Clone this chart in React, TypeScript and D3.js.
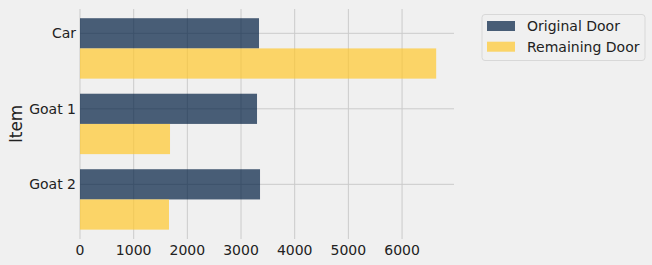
import React from "react";
import * as d3 from "d3";

const categories = ["Car", "Goat 1", "Goat 2"];
const seriesNames = ["Original Door", "Remaining Door"];
const originalDoor = [3335, 3298, 3354];
const remainingDoor = [6636, 1677, 1658];
const xTicks = [0, 1000, 2000, 3000, 4000, 5000, 6000];

const W = 652;
const H = 265;
const left = 80;
const right = 454;
const top = 9;
const bottom = 239;
const colors = ["rgba(0,30,66,0.7)", "rgba(255,200,44,0.7)"];
const font = "DejaVu Sans, sans-serif";

export default function App() {
  const maxV = d3.max([...originalDoor, ...remainingDoor]) as number;
  const x = d3.scaleLinear().domain([0, maxV * 1.05]).range([left, right]);
  const y = d3.scaleLinear().domain([-0.322, 2.724]).range([top, bottom]);
  const series = [originalDoor, remainingDoor];
  const bw = 0.4;
  return (
    <svg width={W} height={H} style={{ position: "absolute", left: 0, top: 0, background: "#f0f0f0" }}>
      <rect x={0} y={0} width={W} height={H} fill="#f0f0f0" />
      {xTicks.map((t) => (
        <line key={"vx" + t} x1={x(t)} x2={x(t)} y1={top} y2={bottom} stroke="#cbcbcb" strokeWidth={1} />
      ))}
      {categories.map((c, i) => (
        <line key={"hy" + c} x1={left} x2={right} y1={y(i)} y2={y(i)} stroke="#cbcbcb" strokeWidth={1} />
      ))}
      {series.map((s, si) =>
        s.map((v, i) => (
          <rect
            key={si + "-" + i}
            x={x(0)}
            y={y(i - bw / 2 + si * bw)}
            width={x(v) - x(0)}
            height={y(i + bw / 2 + si * bw) - y(i - bw / 2 + si * bw)}
            fill={colors[si]}
          />
        ))
      )}
      {categories.map((c, i) => (
        <text key={"yl" + c} x={left - 4} y={y(i)} dy="0.35em" textAnchor="end" fontFamily={font} fontSize={14} fill="#222">
          {c}
        </text>
      ))}
      {xTicks.map((t) => (
        <text key={"xl" + t} x={x(t)} y={255} textAnchor="middle" fontFamily={font} fontSize={14} fill="#222">
          {t}
        </text>
      ))}
      <text
        transform={`translate(22,${(top + bottom) / 2}) rotate(-90)`}
        textAnchor="middle"
        fontFamily={font}
        fontSize={16.8}
        fill="#222"
      >
        Item
      </text>
      <rect x={482} y={14.5} width={163} height={46} rx={3} fill="#f0f0f0" stroke="#d8d8d8" strokeWidth={1} />
      {seriesNames.map((n, i) => (
        <g key={n}>
          <rect x={487} y={21 + i * 20.7} width={28} height={10} fill={colors[i]} />
          <text x={527} y={26 + i * 20.7} dy="0.35em" fontFamily={font} fontSize={14} fill="#222">
            {n}
          </text>
        </g>
      ))}
    </svg>
  );
}
